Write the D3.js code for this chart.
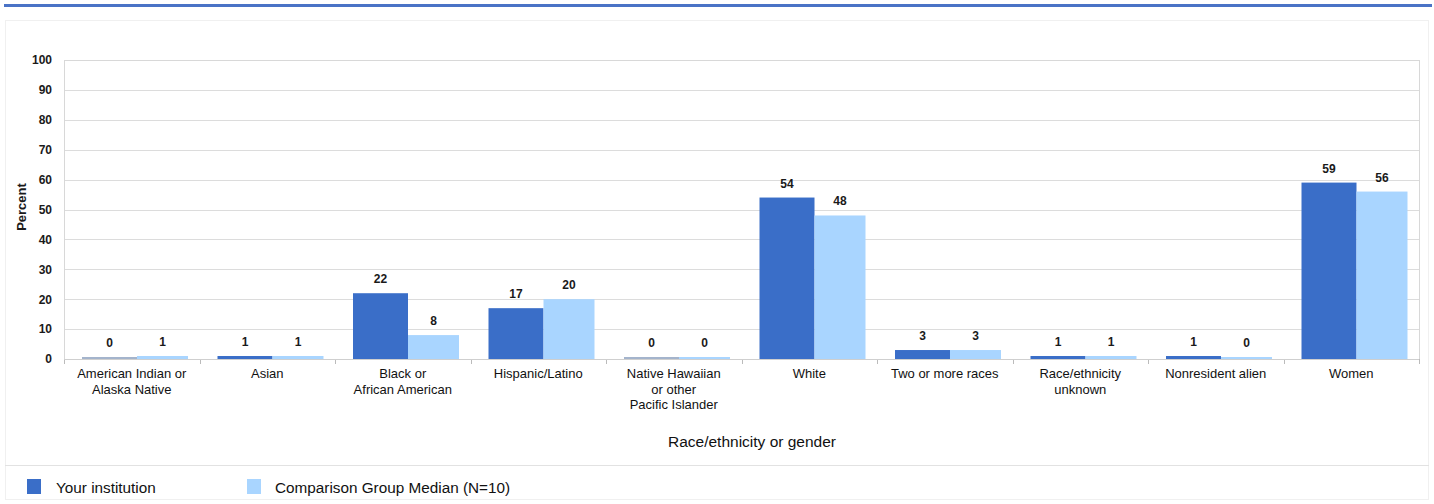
<!DOCTYPE html>
<html><head><meta charset="utf-8">
<script src="https://cdn.jsdelivr.net/npm/d3@7"></script>
<style>
html,body{margin:0;padding:0;background:#fff;}
svg{display:block;font-family:"Liberation Sans",Arial,sans-serif;}
</style></head>
<body>
<svg id="chart" width="1434" height="504"></svg>
<script>
const categories = [
  ["American Indian or","Alaska Native"],
  ["Asian"],
  ["Black or","African American"],
  ["Hispanic/Latino"],
  ["Native Hawaiian","or other","Pacific Islander"],
  ["White"],
  ["Two or more races"],
  ["Race/ethnicity","unknown"],
  ["Nonresident alien"],
  ["Women"]
];
const yourInstitution = [0, 1, 22, 17, 0, 54, 3, 1, 1, 59];
const comparisonMedian = [1, 1, 8, 20, 0, 48, 3, 1, 0, 56];
const seriesNames = ["Your institution", "Comparison Group Median (N=10)"];
const yTicks = [0,10,20,30,40,50,60,70,80,90,100];

const colors = ["#3a6ec8", "#a9d5ff"];
const svg = d3.select("#chart");
const m = {left: 64, right: 1419, top: 60, bottom: 359};

// outer frame
svg.append("rect").attr("x",5.5).attr("y",20.5).attr("width",1423).attr("height",479)
  .attr("fill","none").attr("stroke","#f0f0f0");
// top blue line
svg.append("rect").attr("x",4).attr("y",4).attr("width",1428).attr("height",3).attr("fill","#4a73c6");

const x0 = d3.scaleBand().domain(d3.range(categories.length)).range([m.left, m.right]);
const x1 = d3.scaleBand().domain([0,1]).range([18, 124]);
const y = d3.scaleLinear().domain([0,100]).range([m.bottom, m.top]);

// gridlines
svg.append("g").selectAll("line").data(yTicks).join("line")
  .attr("x1", m.left).attr("x2", m.right)
  .attr("y1", d => Math.round(y(d))+0.5).attr("y2", d => Math.round(y(d))+0.5)
  .attr("stroke", "#dcdcdc");
// plot border
svg.append("rect").attr("x", m.left+0.5).attr("y", m.top+0.5)
  .attr("width", m.right-m.left).attr("height", m.bottom-m.top)
  .attr("fill","none").attr("stroke","#d8d8d8");

// y axis
const yAxis = d3.axisLeft(y).tickValues(yTicks).tickSize(0).tickPadding(12);
const ya = svg.append("g").attr("transform", `translate(${m.left},0)`).call(yAxis);
ya.select(".domain").remove();
ya.selectAll("text").attr("font-size", 12).attr("font-weight","bold").attr("fill","#1a1a1a");

svg.append("text").attr("transform","translate(26,207) rotate(-90)")
  .attr("text-anchor","middle").attr("font-size",13).attr("font-weight","bold").attr("fill","#1a1a1a").text("Percent");

// bars
const series = [yourInstitution, comparisonMedian];
const wAdj = [2, -2], xAdj = [0, 2];
series.forEach((vals, s) => {
  const g = svg.append("g");
  g.selectAll("rect").data(vals).join("rect")
    .attr("x", (d,i) => x0(i) + x1(s) + xAdj[s])
    .attr("width", x1.bandwidth() + wAdj[s])
    .attr("y", d => Math.min(y(d), y(0)-2))
    .attr("height", d => Math.max(y(0)-y(d), 2))
    .attr("fill", (d) => d === 0 && s === 0 ? "#a4b4cc" : colors[s]);
  g.selectAll("text").data(vals).join("text")
    .attr("x", (d,i) => x0(i) + x1(s) + xAdj[s] + (x1.bandwidth()+wAdj[s])/2)
    .attr("y", d => Math.min(y(d), y(0)-2) - 10)
    .attr("text-anchor","middle").attr("font-size",12).attr("font-weight","bold").attr("fill","#1a1a1a")
    .text(d => d);
});

// x axis ticks
const xa = svg.append("g");
xa.selectAll("line").data(d3.range(categories.length+1)).join("line")
  .attr("x1", i => Math.round(m.left + i*x0.step())+0.5)
  .attr("x2", i => Math.round(m.left + i*x0.step())+0.5)
  .attr("y1", m.bottom).attr("y2", m.bottom+5).attr("stroke","#bbb");
xa.append("line").attr("x1",m.left).attr("x2",m.right).attr("y1",m.bottom+0.5).attr("y2",m.bottom+0.5).attr("stroke","#cfcfcf");

const cl = svg.append("g").selectAll("text").data(categories).join("text")
  .attr("x", (d,i) => x0(i)+x0.bandwidth()/2)
  .attr("y", 378)
  .attr("text-anchor","middle").attr("font-size",13).attr("fill","#111");
cl.each(function(lines){
  d3.select(this).selectAll("tspan").data(lines).join("tspan")
    .attr("x", d3.select(this).attr("x")).attr("dy",(d,j)=> j===0?0:15.5).text(d=>d);
});

svg.append("text").attr("x", 752).attr("y", 447).attr("text-anchor","middle")
  .attr("font-size",15.5).attr("fill","#111").text("Race/ethnicity or gender");

// legend
svg.append("line").attr("x1",5).attr("x2",1429).attr("y1",465.5).attr("y2",465.5).attr("stroke","#e2e2e2");
const leg = [[27,56],[247,275]];
seriesNames.forEach((n,i) => {
  svg.append("rect").attr("x",leg[i][0]).attr("y",479).attr("width",14).attr("height",15).attr("fill",colors[i]);
  svg.append("text").attr("x",leg[i][1]).attr("y",493).attr("font-size",15.3).attr("fill","#111").text(n);
});
</script>
</body></html>
